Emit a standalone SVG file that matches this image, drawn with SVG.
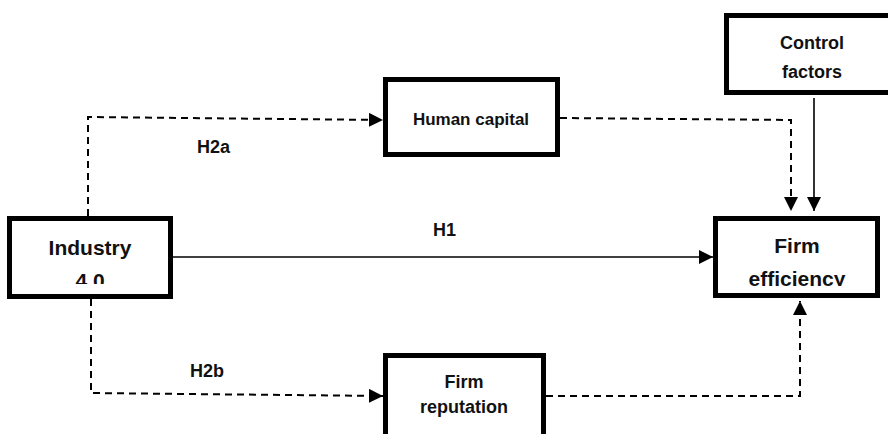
<svg xmlns="http://www.w3.org/2000/svg" width="888" height="434" viewBox="0 0 888 434">
  <style>
    .box { fill: #ffffff; stroke: #000000; stroke-width: 5; }
    .lbl { font-family: "Liberation Sans", Arial, sans-serif; font-weight: bold; fill: #111111; }
    .conn { fill: none; stroke: #000000; stroke-width: 2; }
    .dash { stroke-dasharray: 7 5; }
    .solid { stroke-width: 1.6; }
  </style>
  <defs>
    <marker id="arrow" viewBox="0 0 14 14" refX="14" refY="7" markerWidth="14" markerHeight="14" markerUnits="userSpaceOnUse" orient="auto">
      <path d="M0,0 L14,7 L0,14 Z" fill="#000000"/>
    </marker>
    <clipPath id="clipInd"><rect x="0" y="200" width="200" height="84"/></clipPath>
    <clipPath id="clipFE"><rect x="700" y="200" width="188" height="86"/></clipPath>
  </defs>
  <rect width="888" height="434" fill="#ffffff"/>

  <g id="connectors">
    <path class="conn dash" d="M88,216 L88,117 L383,120" marker-end="url(#arrow)"/>
    <path class="conn dash" d="M91,299 L91,393 L383,396" marker-end="url(#arrow)"/>
    <path class="conn solid" d="M173,257 L713,257" marker-end="url(#arrow)"/>
    <path class="conn dash" d="M560,118 L791,120 L791,211" marker-end="url(#arrow)"/>
    <path class="conn solid" d="M814,98 L814,211" marker-end="url(#arrow)"/>
    <path class="conn dash" d="M546,396 L800,396 L800,301" marker-end="url(#arrow)"/>
    <text class="lbl" x="197" y="153" font-size="18">H2a</text>
    <text class="lbl" x="190" y="377" font-size="18">H2b</text>
    <text class="lbl" x="433" y="236" font-size="18">H1</text>
  </g>

  <g id="industry">
    <rect class="box" x="9.5" y="218.5" width="161" height="78"/>
    <g clip-path="url(#clipInd)">
      <text class="lbl" x="90" y="255" font-size="21" text-anchor="middle">Industry</text>
      <text class="lbl" x="90" y="288" font-size="21" text-anchor="middle">4.0</text>
    </g>
  </g>

  <g id="human-capital">
    <rect class="box" x="385.5" y="79.5" width="172" height="75"/>
    <text class="lbl" x="471" y="125" font-size="17" text-anchor="middle">Human capital</text>
  </g>

  <g id="firm-reputation">
    <rect class="box" x="385.5" y="355.5" width="158" height="100"/>
    <text class="lbl" x="464" y="388" font-size="18" text-anchor="middle">Firm</text>
    <text class="lbl" x="464" y="413" font-size="18" text-anchor="middle">reputation</text>
  </g>

  <g id="control-factors">
    <rect class="box" x="726.5" y="15.5" width="180" height="77"/>
    <text class="lbl" x="812" y="49" font-size="18" text-anchor="middle">Control</text>
    <text class="lbl" x="812" y="78" font-size="18" text-anchor="middle">factors</text>
  </g>

  <g id="firm-efficiency">
    <rect class="box" x="715.5" y="218.5" width="162" height="77"/>
    <g clip-path="url(#clipFE)">
      <text class="lbl" x="797" y="253" font-size="21" text-anchor="middle">Firm</text>
      <text class="lbl" x="797" y="286" font-size="21" text-anchor="middle">efficiency</text>
    </g>
  </g>
</svg>
